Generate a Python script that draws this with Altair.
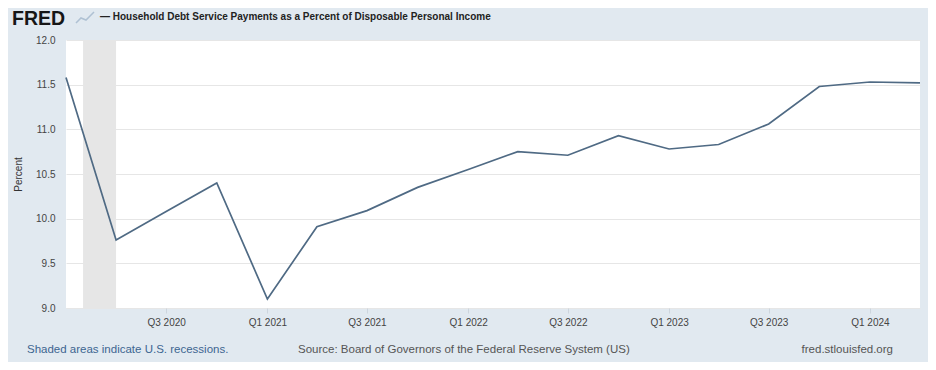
import altair as alt
import pandas as pd

# Quarterly observations (Q1 2020 .. Q2 2024)
dates = ["2020-01-01", "2020-04-01", "2020-07-01", "2020-10-01",
         "2021-01-01", "2021-04-01", "2021-07-01", "2021-10-01",
         "2022-01-01", "2022-04-01", "2022-07-01", "2022-10-01",
         "2023-01-01", "2023-04-01", "2023-07-01", "2023-10-01",
         "2024-01-01", "2024-04-01"]
values = [11.58, 9.76, 10.08, 10.40,
          9.10, 9.91, 10.09, 10.35,
          10.55, 10.75, 10.71, 10.93,
          10.78, 10.83, 11.06, 11.48,
          11.53, 11.52]

rec_start = ["2020-02-01"]
rec_end = ["2020-04-01"]

tick_dates = ["2020-07-01", "2021-01-01", "2021-07-01", "2022-01-01",
              "2022-07-01", "2023-01-01", "2023-07-01", "2024-01-01"]
y_ticks = [9.0, 9.5, 10.0, 10.5, 11.0, 11.5, 12.0]

title_text = "\u2014 Household Debt Service Payments as a Percent of Disposable Personal Income"
footer_left = "Shaded areas indicate U.S. recessions."
footer_mid = "Source: Board of Governors of the Federal Reserve System (US)"
footer_right = "fred.stlouisfed.org"

df = pd.DataFrame({"date": dates, "value": values})
rec = pd.DataFrame({"start": rec_start, "end": rec_end})

FONT = "Liberation Sans"
BG = "#E1E9F0"

xscale = alt.Scale(type="utc", domain=[dates[0], dates[-1]])
yscale = alt.Scale(domain=[9, 12], nice=False, zero=False)

xaxis = alt.Axis(
    values=[alt.DateTime(year=int(d[:4]), month=int(d[5:7]), date=1, utc=True) for d in tick_dates],
    labelExpr="'Q' + utcquarter(datum.value) + ' ' + utcyear(datum.value)",
    grid=False, domain=False, ticks=True, tickSize=5, tickColor="#CDD5DD",
    labelFont=FONT, labelFontSize=10, labelColor="#444444", labelPadding=4,
    title=None,
)
yaxis = alt.Axis(
    values=y_ticks, format=".1f", grid=True, gridColor="#E6E6E6", domain=False,
    ticks=False, labelFont=FONT, labelFontSize=10, labelColor="#444444",
    labelPadding=11, title="Percent", titleFont=FONT, titleFontSize=10,
    titleFontWeight="normal", titleColor="#333333", titlePadding=12,
)

shade = alt.Chart(rec).mark_rect(color="#E6E6E6").encode(
    x=alt.X("start:T", scale=xscale, axis=xaxis),
    x2="end:T",
    y=alt.value(0), y2=alt.value(268),
)

line = alt.Chart(df).mark_line(color="#4F6A84", strokeWidth=1.7).encode(
    x=alt.X("date:T", scale=xscale, axis=xaxis),
    y=alt.Y("value:Q", scale=yscale, axis=yaxis),
)

def txt(text, x, y, size=11, weight="normal", color="#555555", align="left"):
    return alt.Chart(pd.DataFrame({"t": [text]})).mark_text(
        font=FONT, fontSize=size, fontWeight=weight, color=color, align=align,
        baseline="middle",
    ).encode(text="t:N", x=alt.value(x), y=alt.value(y))

# offsets relative to plot origin at page (66, 40)
logo = txt("FRED", 12 - 66, 19 - 40, size=19.5, weight="bold", color="#161616")
title = txt(title_text, 100 - 66, 17 - 40, size=10, weight="bold", color="#222222")
f1 = txt(footer_left, 27 - 66, 350 - 40, size=11.5, color="#3D6591")
f2 = txt(footer_mid, 298 - 66, 350 - 40, size=11.5, color="#555555")
f3 = txt(footer_right, 893 - 66, 350 - 40, size=11.5, color="#555555", align="right")

# small logo graph icon
icon_pts = pd.DataFrame({"px": [76 - 66, 81 - 66, 86 - 66, 94 - 66],
                         "py": [23 - 40, 18 - 40, 20 - 40, 12 - 40]})
icon = alt.Chart(icon_pts).mark_line(color="#AFC1D3", strokeWidth=1.5).encode(
    x=alt.X("px:Q", scale=None), y=alt.Y("py:Q", scale=None))

chart = alt.layer(shade, line, logo, title, f1, f2, f3, icon).properties(
    width=854, height=268,
    autosize=alt.AutoSizeParams(type="none"),
    padding={"left": 58, "top": 32, "right": 8, "bottom": 54},
    background=BG,
).configure_view(fill="white", stroke=None)

chart.save("out.html", embed_options={"renderer": "svg", "actions": False})
